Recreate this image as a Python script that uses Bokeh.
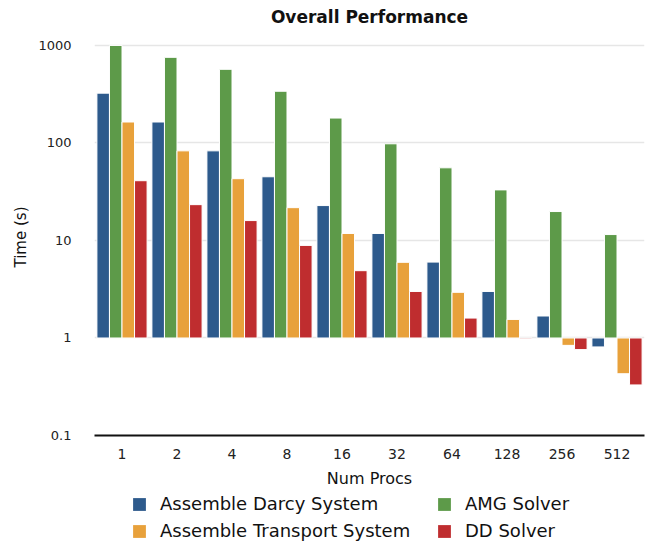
from bokeh.plotting import figure
from bokeh.layouts import column
from bokeh.models import (ColumnDataSource, FactorRange, Range1d, FixedTicker,
                          NumeralTickFormatter, Legend, LegendItem, Label)
from bokeh.transform import dodge
from bokeh.embed import file_html
from bokeh.resources import INLINE

procs = ["1", "2", "4", "8", "16", "32", "64", "128", "256", "512"]
darcy = [324, 164, 83, 45, 22.8, 11.8, 6.0, 3.0, 1.68, 0.81]
amg = [1000, 755, 569, 339, 180, 98, 55.6, 33, 19.8, 11.5]
transport = [164, 83, 43, 21.7, 11.8, 5.97, 2.94, 1.55, 0.84, 0.43]
dd = [41, 23.3, 16, 8.9, 4.9, 3.0, 1.6, 0.98, 0.76, 0.33]
y_ticks = [0.1, 1, 10, 100, 1000]
base = [1] * len(procs)

src = ColumnDataSource(dict(procs=procs, darcy=darcy, amg=amg,
                            transport=transport, dd=dd, base=base))

FONT = "DejaVu Sans"

# title strip
t = figure(width=648, height=38, x_range=Range1d(0, 1), y_range=Range1d(0, 1),
           output_backend="svg", toolbar_location=None,
           x_axis_location=None, y_axis_location=None)
t.grid.grid_line_color = None
t.outline_line_color = None
t.min_border_left = 94
t.min_border_right = 4
t.min_border_top = 0
t.min_border_bottom = 0
t.add_layout(Label(x=0.5, y=0.56, text="Overall Performance", text_align="center",
                   text_baseline="alphabetic", text_font=FONT, text_font_size="17px",
                   text_font_style="bold", text_color="#111111"))

p = figure(width=648, height=452, x_range=FactorRange(*procs),
           y_range=Range1d(0.1, 1178), y_axis_type="log",
           output_backend="svg", toolbar_location=None)
p.x_range.range_padding = 0

bw = 0.228
series = [("darcy", "Assemble Darcy System", "#2d5a8c", -1.5),
          ("amg", "AMG Solver", "#5d9a49", -0.5),
          ("transport", "Assemble Transport System", "#e8a13b", 0.5),
          ("dd", "DD Solver", "#bf2d2f", 1.5)]
for key, label, color, k in series:
    p.vbar(x=dodge("procs", k * bw, range=p.x_range), bottom="base", top=key,
           width=bw, source=src, fill_color=color, line_color="white",
           line_width=1)

p.yaxis.ticker = FixedTicker(ticks=y_ticks)
p.yaxis.formatter = NumeralTickFormatter(format="0.[0]")
p.yaxis.axis_line_color = None
p.yaxis.major_tick_line_color = None
p.yaxis.minor_tick_line_color = None
p.yaxis.major_label_standoff = 17
p.yaxis.axis_label = "Time (s)"
p.yaxis.axis_label_standoff = 5
p.yaxis.axis_label_text_font = FONT
p.yaxis.axis_label_text_font_style = "normal"
p.yaxis.axis_label_text_font_size = "15px"
p.yaxis.axis_label_text_color = "#111111"
p.yaxis.major_label_text_font = FONT
p.yaxis.major_label_text_font_size = "13px"
p.yaxis.major_label_text_color = "#222222"

p.xaxis.axis_line_color = "#111111"
p.xaxis.axis_line_width = 2
p.xaxis.major_tick_line_color = None
p.xaxis.minor_tick_line_color = None
p.xaxis.major_label_standoff = 7
p.xaxis.axis_label = "Num Procs"
p.xaxis.axis_label_standoff = 7
p.xaxis.axis_label_text_font = FONT
p.xaxis.axis_label_text_font_style = "normal"
p.xaxis.axis_label_text_font_size = "16px"
p.xaxis.axis_label_text_color = "#111111"
p.xaxis.major_label_text_font = FONT
p.xaxis.major_label_text_font_size = "14px"
p.xaxis.major_label_text_color = "#222222"

p.xgrid.grid_line_color = None
p.ygrid.ticker = FixedTicker(ticks=y_ticks[1:])
p.ygrid.grid_line_color = "#e6e6e6"
p.ygrid.grid_line_width = 1.5

p.outline_line_color = None
p.min_border_left = 94
p.min_border_right = 4
p.min_border_top = 0
p.min_border_bottom = 53

# legend strip (its bars lie below its own view; only the legend shows)
q = figure(width=648, height=56, x_range=FactorRange(*procs),
           y_range=Range1d(2000, 3000),
           output_backend="svg", toolbar_location=None,
           x_axis_location=None, y_axis_location=None)
q.grid.grid_line_color = None
q.outline_line_color = None
q.min_border_left = 94
q.min_border_right = 4
q.min_border_top = 0
q.min_border_bottom = 0
items = {}
for key, label, color, k in series:
    r = q.vbar(x="procs", bottom="base", top=key, width=bw, source=src,
               fill_color=color, line_color=None)
    items[key] = LegendItem(label=label, renderers=[r])

legend = Legend(items=[items[k] for k in ["darcy", "amg", "transport", "dd"]],
                ncols=2, orientation="horizontal")
legend.label_text_font = FONT
legend.label_text_font_size = "18px"
legend.label_text_color = "#111111"
legend.glyph_width = 16
legend.glyph_height = 16
legend.label_standoff = 13
legend.spacing = 6
legend.padding = 0
legend.margin = 0
legend.border_line_color = None
legend.background_fill_alpha = 0
legend.label_height = 20
legend.label_width = 270
legend.location = (37, 5)
q.add_layout(legend, "center")

layout = column(t, p, q)
open("out.html", "w").write(file_html(layout, INLINE))
